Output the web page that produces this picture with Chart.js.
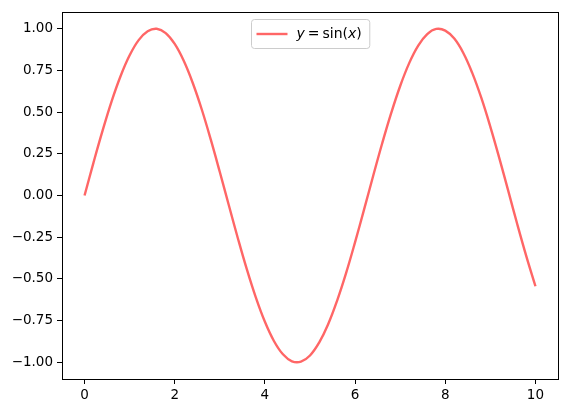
<!DOCTYPE html>
<html>
<head>
<meta charset="utf-8">
<script src="https://cdn.jsdelivr.net/npm/chart.js@4"></script>
<style>
  html, body { margin: 0; padding: 0; background: #fff; }
  #wrap { width: 568px; height: 413px; }
</style>
</head>
<body>
<div id="wrap"><canvas id="myChart" width="568" height="413"></canvas></div>
<script>
// values
const xValues = [0, 0.2, 0.4, 0.6, 0.8, 1.0, 1.2, 1.4, 1.6, 1.8, 2.0, 2.2, 2.4, 2.6, 2.8, 3.0, 3.2, 3.4, 3.6, 3.8,
  4.0, 4.2, 4.4, 4.6, 4.8, 5.0, 5.2, 5.4, 5.6, 5.8, 6.0, 6.2, 6.4, 6.6, 6.8, 7.0, 7.2, 7.4, 7.6, 7.8,
  8.0, 8.2, 8.4, 8.6, 8.8, 9.0, 9.2, 9.4, 9.6, 9.8, 10.0];
const yValues = [0.000, 0.199, 0.389, 0.565, 0.717, 0.841, 0.932, 0.985, 1.000, 0.974,
  0.909, 0.808, 0.675, 0.516, 0.335, 0.141, -0.058, -0.256, -0.443, -0.612,
  -0.757, -0.872, -0.952, -0.994, -0.996, -0.959, -0.883, -0.773, -0.631, -0.465,
  -0.279, -0.083, 0.117, 0.312, 0.494, 0.657, 0.794, 0.899, 0.968, 0.999,
  0.989, 0.941, 0.855, 0.734, 0.585, 0.412, 0.223, 0.025, -0.175, -0.366, -0.544];
const xTicks = [0, 2, 4, 6, 8, 10];
const yTicks = [-1.00, -0.75, -0.50, -0.25, 0.00, 0.25, 0.50, 0.75, 1.00];
const seriesLabel = [{t: 'y', i: true}, {t: '=', gap: 3}, {t: 'sin('}, {t: 'x', i: true}, {t: ')'}];

const lineColor = 'rgb(255,102,102)';
const FONT = 'DejaVu Sans';

const points = xValues.map((x, i) => ({x: x, y: yValues[i]}));

// frame around plot area (matplotlib spines) + mathtext legend
const framePlugin = {
  id: 'frame',
  afterDraw(chart) {
    const {ctx, chartArea: a} = chart;
    ctx.save();
    ctx.strokeStyle = '#000';
    ctx.lineWidth = 1;
    ctx.strokeRect(Math.round(a.left) + 0.5, Math.round(a.top) + 0.5,
      Math.round(a.right - a.left), Math.round(a.bottom - a.top));

    // legend
    const fs = 14;
    let w = 0;
    seriesLabel.forEach(s => {
      ctx.font = (s.i ? 'italic ' : '') + fs + 'px "' + FONT + '"';
      s.w = ctx.measureText(s.t).width + 2 * (s.gap || 0);
      w += s.w;
    });
    const boxW = 45 + w + 8;
    const boxH = 29;
    const cx = (a.left + a.right) / 2;
    const bx = Math.round(cx - boxW / 2) + 0.5, by = Math.round(a.top) + 7.5;
    ctx.beginPath();
    ctx.roundRect(bx, by, boxW, boxH, 3);
    ctx.fillStyle = 'rgba(255,255,255,0.8)';
    ctx.fill();
    ctx.strokeStyle = '#cccccc';
    ctx.lineWidth = 1;
    ctx.stroke();
    const my = by + boxH / 2;
    ctx.beginPath();
    ctx.moveTo(bx + 5, my);
    ctx.lineTo(bx + 36, my);
    ctx.strokeStyle = lineColor;
    ctx.lineWidth = 2.4;
    ctx.stroke();
    let tx = bx + 45;
    ctx.fillStyle = '#000';
    ctx.textBaseline = 'middle';
    seriesLabel.forEach(s => {
      ctx.font = (s.i ? 'italic ' : '') + fs + 'px "' + FONT + '"';
      ctx.fillText(s.t, tx + (s.gap || 0), my);
      tx += s.w;
    });
    ctx.restore();
  }
};

const ctx = document.getElementById('myChart').getContext('2d');
const chart = new Chart(ctx, {
  type: 'line',
  data: {
    datasets: [{
      label: 'y = sin(x)',
      data: points,
      borderColor: lineColor,
      backgroundColor: lineColor,
      borderWidth: 2.4,
      pointRadius: 0,
      tension: 0.4,
      fill: false
    }]
  },
  options: {
    responsive: false,
    animation: false,
    devicePixelRatio: 1,
    layout: { padding: { top: 10, right: 10, left: 0, bottom: 0 } },
    plugins: { legend: { display: false }, tooltip: { enabled: false } },
    scales: {
      x: {
        type: 'linear',
        min: -0.5,
        max: 10.5,
        afterBuildTicks: axis => { axis.ticks = xTicks.map(v => ({value: v})); },
        afterFit: axis => { axis.height = 34; },
        grid: { display: true, drawOnChartArea: false, drawTicks: true, tickLength: 5, color: '#000', tickWidth: 1 },
        border: { display: false },
        ticks: {
          color: '#000',
          padding: 3,
          maxRotation: 0,
          font: { family: FONT, size: 13.5 },
          callback: v => String(v)
        }
      },
      y: {
        min: -1.1,
        max: 1.1,
        afterBuildTicks: axis => { axis.ticks = yTicks.map(v => ({value: v})); },
        afterFit: axis => { axis.width = 62; },
        grid: { display: true, drawOnChartArea: false, drawTicks: true, tickLength: 5, color: '#000', tickWidth: 1 },
        border: { display: false },
        ticks: {
          color: '#000',
          padding: 4,
          font: { family: FONT, size: 13.5 },
          callback: v => v.toFixed(2).replace('-', '\u2212')
        }
      }
    }
  },
  plugins: [framePlugin]
});
</script>
</body>
</html>
